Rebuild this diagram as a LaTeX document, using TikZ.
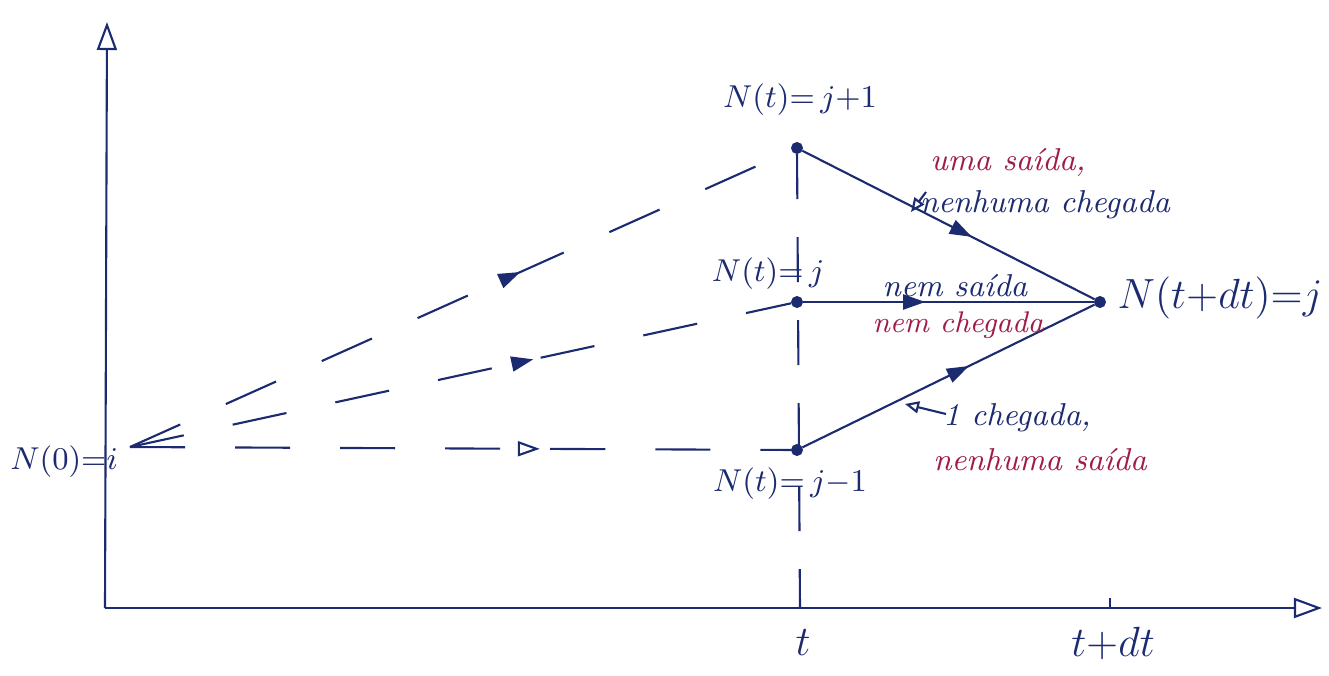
\documentclass[tikz,border=0pt]{standalone}
\usepackage{fontspec}
\usetikzlibrary{arrows.meta,decorations.markings}
\definecolor{ink}{RGB}{28,42,112}
\definecolor{redink}{RGB}{160,28,72}
\tikzset{
  ln/.style={draw=ink, line width=0.6pt},
  axis/.style={ln, -{Triangle[open,length=0.28cm,width=0.2cm]}},
  dot/.style={circle, fill=ink, draw=ink, inner sep=0pt, minimum size=3pt},
  midarrow/.style={postaction={decorate},
    decoration={markings, mark=at position #1 with {\arrow[ink]{Triangle[length=0.22cm,width=0.15cm]}}}},
  midopen/.style={postaction={decorate},
    decoration={markings, mark=at position #1 with {\arrow[ink]{Triangle[open,length=0.22cm,width=0.15cm]}}}},
  dashpath/.style={ln, dash pattern=on 0.55cm off 0.5cm},
  vdash/.style={ln, dash pattern=on 0.45cm off 0.38cm},
  lab/.style={text=ink, font=\fontsize{9.5}{11}\selectfont},
  biglab/.style={text=ink, font=\fontsize{12.5}{14}\selectfont},
  blue note/.style={text=ink, font=\fontsize{9}{11}\selectfont\itshape},
  red note/.style={text=redink, font=\fontsize{9}{11}\selectfont\itshape},
  tinyarrow/.style={draw=ink, line width=0.6pt, -{Triangle[open,length=0.14cm,width=0.12cm]}}
}
\begin{document}
\begin{tikzpicture}[x=0.01cm, y=-0.01cm]
\useasboundingbox (0,0) rectangle (1329,675);
% axes
\coordinate (orig) at (105,608);
\coordinate (ytop) at (107,22);
\coordinate (xend) at (1322,608);
\draw[axis] (orig) -- (ytop);
\draw[axis] (orig) -- (xend);
\coordinate (tt) at (800,608);
\coordinate (tdt) at (1110,608);
\coordinate (tdttop) at (1110,598);
\draw[ln] (tdt) -- (tdttop);
\node[biglab] (tlab) at (803,643) {$t$};
\node[biglab, font=\fontsize{13}{15}\selectfont] (tdtlab) at (1113,643) {$t{+}dt$};
% points
\node[dot] (A) at (797,148) {};
\node[dot] (B) at (797,302) {};
\node[dot] (C) at (797,450) {};
\node[dot] (D) at (1100,302) {};
\coordinate (O) at (130,447);
% vertical dashed line at t
\draw[vdash] (A) -- (tt);
% labels of points
\node[lab] (Alab) at (800,100) {$N(t){=}\,j{+}1$};
\node[lab] (Blab) at (768,274) {$N(t){=}\,j$};
\node[lab] (Clab) at (790,484) {$N(t){=}\,j{-}1$};
\node[biglab] (Dlab) at (1220,298) {$N(t{+}dt){=}j$};
\node[lab] (Olab) at (64,462) {$N(0){=}i$};
% paths from origin
\draw[dashpath, midarrow=0.59] (O) -- (A);
\draw[dashpath, midarrow=0.61] (O) -- (B);
\draw[dashpath, midopen=0.62] (O) -- (C);
% transitions
\draw[ln, midarrow=0.58] (A) -- (D);
\draw[ln, midarrow=0.42] (B) -- (D);
\draw[ln, midarrow=0.57] (C) -- (D);
% notes
\node[red note] (n1) at (1008,163) {uma saída,};
\node[blue note] (n2) at (1045,205) {nenhuma chegada};
\coordinate (n2a) at (926,192);
\coordinate (n2b) at (911,212);
\draw[tinyarrow] (n2a) -- (n2b);
\node[blue note] (n3) at (955,286) {nem saída};
\node[red note, font=\fontsize{8.5}{10}\selectfont\itshape] (n4) at (958,325) {nem chegada};
\node[blue note] (n5) at (1017,418) {1 chegada,};
\coordinate (n5a) at (946,414);
\coordinate (n5b) at (905,404);
\draw[tinyarrow] (n5a) -- (n5b);
\node[red note] (n6) at (1040,460) {nenhuma saída};
\end{tikzpicture}
\end{document}
